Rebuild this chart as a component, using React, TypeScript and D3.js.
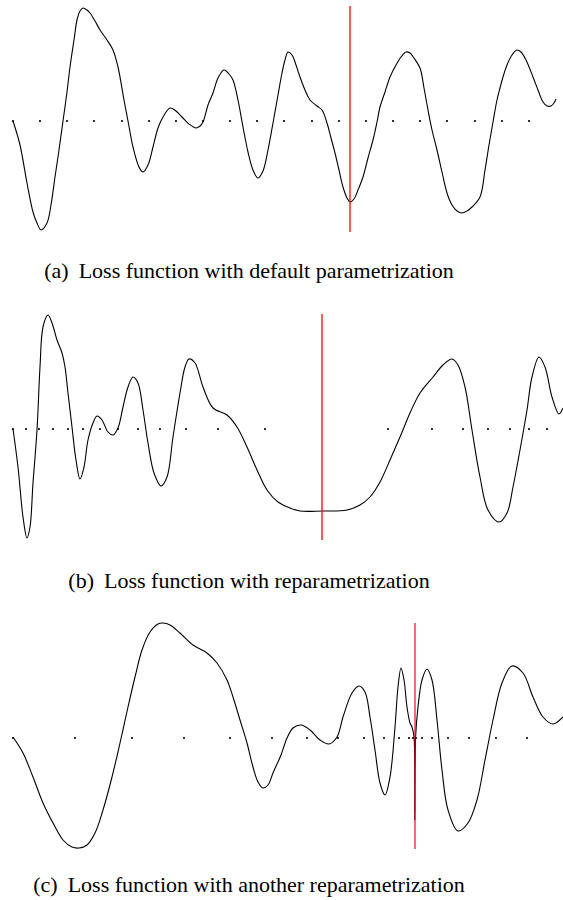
import React, { useEffect, useRef } from "react";
import * as d3 from "d3";

// parameter position t, loss value L
const curveA = [
  [0, 0], [7, -24], [14, -62], [20, -91], [24, -102], [28, -109], [34, -102], [38, -84], [42, -56], [46, -29],
  [50, 0], [54, 29], [57, 54], [61, 81], [64, 101], [67, 110], [70, 113], [74, 111], [77, 108], [82, 100],
  [87, 91], [94, 81], [100, 71], [105, 54], [111, 21], [115, 0], [120, -26], [126, -46], [130, -51], [135, -44],
  [140, -26], [145, -7], [150, 4], [157, 13], [163, 10], [169, 4], [176, -3], [183, -7], [187, -5], [190, -1],
  [195, 16], [200, 28], [205, 43], [211, 51], [216, 47], [220, 41], [225, 21], [230, -6], [235, -31], [240, -49],
  [245, -57], [250, -50], [255, -29], [260, -2], [265, 26], [269, 48], [272, 61], [275, 69], [279, 66], [283, 56],
  [287, 44], [292, 31], [297, 21], [304, 15], [309, 11], [314, -2], [318, -17], [322, -32], [326, -49], [330, -66],
  [334, -77], [337, -81], [341, -78], [345, -69], [350, -56], [355, -37], [360, -19], [364, -1], [367, 14], [372, 29],
  [377, 44], [383, 56], [388, 64], [393, 69], [397, 68], [401, 63], [407, 53], [411, 33], [415, 11], [419, -9],
  [424, -29], [429, -51], [434, -72], [439, -84], [444, -90], [449, -92], [454, -90], [459, -86], [467, -76], [472, -49],
  [476, -24], [480, -1], [484, 21], [487, 33], [490, 44], [494, 56], [499, 66], [504, 71], [508, 69], [513, 61],
  [520, 44], [525, 31], [530, 19], [534, 15], [538, 15], [541, 18], [543, 22],
];
const dotsA = [0, 27, 54, 81, 109, 136, 163, 190, 217, 244, 271, 299, 326, 353, 380, 407, 434, 462, 489, 516];
const minA = 337;

const curveB = [
  [0, 0], [5, -38], [10, -88], [14, -109], [17, -98], [20, -54], [24, -1], [27, 62], [30, 102], [35, 114],
  [39, 106], [44, 89], [49, 76], [52, 62], [55, 36], [59, 2], [63, -31], [67, -50], [71, -38], [75, -11],
  [80, 6], [84, 13], [89, 9], [95, -3], [100, -6], [105, 1], [110, 22], [115, 42], [120, 52], [125, 46],
  [130, 19], [135, -14], [141, -44], [148, -57], [154, -48], [160, -8], [167, 36], [172, 62], [176, 70], [182, 66],
  [190, 42], [200, 21], [214, 14], [224, 2], [234, -18], [244, -41], [254, -61], [265, -73], [277, -79], [287, -82],
  [309, -82], [334, -81], [347, -76], [357, -68], [367, -53], [377, -31], [387, -8], [397, 16], [407, 36], [420, 52],
  [430, 64], [439, 70], [445, 64], [452, 42], [459, -1], [467, -48], [475, -81], [486, -93], [494, -84], [500, -58],
  [507, -21], [514, 19], [519, 52], [526, 72], [532, 62], [539, 32], [546, 15], [550, 21],
];
const dotsB = [0, 13, 26, 40, 55, 70, 87, 105, 125, 147, 173, 205, 252, 375, 419, 450, 475, 497, 516, 534];
const minB = 309;

const curveC = [
  [0, 1], [10, -15], [20, -39], [30, -65], [40, -85], [50, -102], [59, -109], [66, -110], [74, -107], [82, -95],
  [90, -72], [99, -39], [107, -5], [115, 31], [122, 61], [129, 88], [137, 106], [145, 114], [150, 115], [157, 113],
  [167, 105], [180, 93], [194, 85], [204, 75], [214, 58], [220, 41], [227, 18], [234, -5], [240, -29], [245, -44],
  [250, -50], [255, -47], [260, -35], [268, -17], [274, 0], [280, 10], [288, 13], [297, 8], [307, -2], [316, -6],
  [324, 1], [330, 21], [339, 45], [346, 52], [352, 46], [357, 21], [362, -12], [367, -45], [372, -57], [377, -39],
  [382, 11], [385, 51], [388, 70], [391, 58], [394, 31], [397, 15], [399, 11], [401, 1], [401.8, -82], [402.6, 1],
  [405, 31], [409, 58], [414, 69], [419, 58], [424, 18], [429, -32], [435, -72], [445, -93], [455, -85], [464, -62],
  [472, -22], [480, 18], [489, 55], [499, 72], [510, 65], [520, 41], [530, 21], [540, 14], [550, 21],
];
const dotsC = [0, 62, 119, 171, 217, 259, 294, 325, 351, 371, 386, 396, 400, 403, 409, 419, 435, 456, 483, 514];
const minC = 402;

const labels = ["(a)", "(b)", "(c)"];
const captions = [
  "Loss function with default parametrization",
  "Loss function with reparametrization",
  "Loss function with another reparametrization",
];

const App = () => {
  const ref = useRef<SVGSVGElement>(null);

  useEffect(() => {
    const svg = d3.select(ref.current);
    svg.selectAll("*").remove();

    const panels = [
      { curve: curveA, dots: dotsA, min: minA, mid: 121, capY: 278, red: "#ff0000", redW: 1.3, redO: 1 },
      { curve: curveB, dots: dotsB, min: minB, mid: 429, capY: 588, red: "#ff0000", redW: 1.3, redO: 1 },
      { curve: curveC, dots: dotsC, min: minC, mid: 738, capY: 892, red: "#d40000", redW: 2, redO: 0.55 },
    ];

    panels.forEach((p, i) => {
      const x = d3.scaleLinear().domain([0, 550]).range([13, 563]);
      const y = d3.scaleLinear().domain([-120, 120]).range([p.mid + 120, p.mid - 120]);
      const g = svg.append("g");

      g.selectAll("circle")
        .data(p.dots)
        .join("circle")
        .attr("cx", (d) => x(d))
        .attr("cy", y(0))
        .attr("r", 1.1)
        .attr("fill", "#000");

      const line = d3
        .line<number[]>()
        .x((d) => x(d[0]))
        .y((d) => y(d[1]))
        .curve(d3.curveCatmullRom.alpha(0.5));

      g.append("path")
        .datum(p.curve)
        .attr("fill", "none")
        .attr("stroke", "#000")
        .attr("stroke-width", 1.1)
        .attr("stroke-linejoin", "round")
        .attr("d", line);

      g.append("line")
        .attr("x1", x(p.min))
        .attr("x2", x(p.min))
        .attr("y1", y(115))
        .attr("y2", y(-111))
        .attr("stroke", p.red)
        .attr("stroke-opacity", p.redO)
        .attr("stroke-width", p.redW);

      const t = g
        .append("text")
        .attr("x", 249)
        .attr("y", p.capY)
        .attr("text-anchor", "middle")
        .style("font-family", "'Liberation Serif', 'Times New Roman', serif")
        .style("font-size", "22px")
        .attr("fill", "#000");
      t.append("tspan").text(labels[i]);
      t.append("tspan").attr("dx", 10).text(captions[i]);
    });
  }, []);

  return (
    <svg
      ref={ref}
      width={563}
      height={900}
      style={{ position: "absolute", left: 0, top: 0, display: "block", background: "#fff" }}
    />
  );
};

export default App;
